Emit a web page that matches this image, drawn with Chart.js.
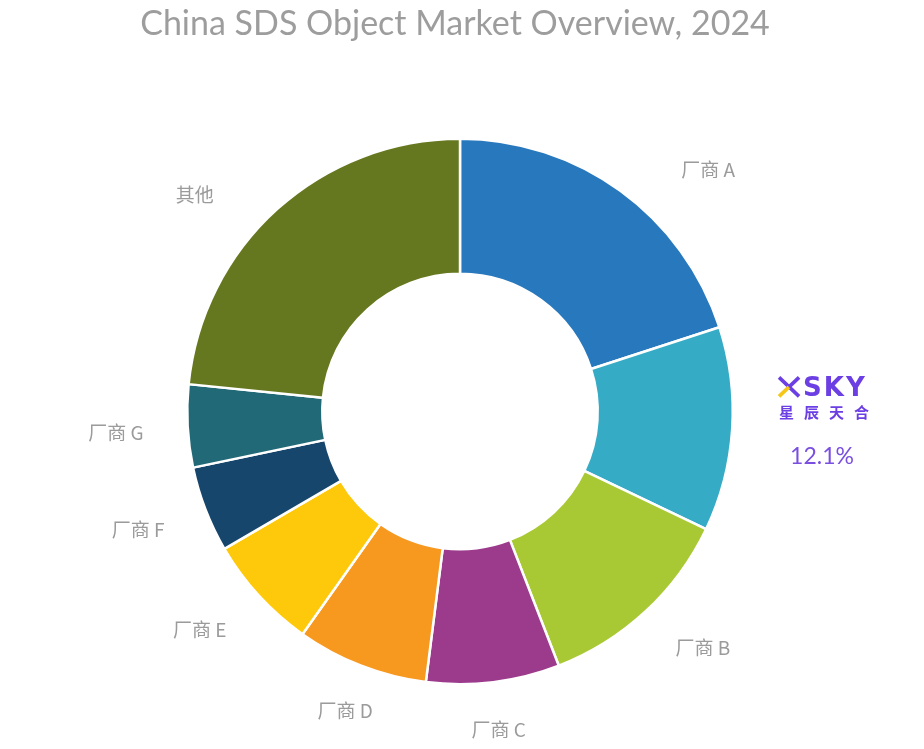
<!DOCTYPE html>
<html>
<head>
<meta charset="utf-8">
<script src="https://cdn.jsdelivr.net/npm/chart.js@4/dist/chart.umd.min.js"></script>
<style>
html,body{margin:0;padding:0;background:#fff;}
#wrap{width:924px;height:749px;position:relative;}
</style>
</head>
<body>
<div id="wrap"><canvas id="c" width="924" height="749"></canvas></div>
<script>
const chartTitle = "China SDS Object Market Overview, 2024";
const categories = ["厂商 A", "XSKY", "厂商 B", "厂商 C", "厂商 D", "厂商 E", "厂商 F", "厂商 G", "其他"];
const shares = [20.0, 12.1, 12.0, 7.9, 7.8, 6.8, 5.1, 4.9, 23.4];
const sliceColors = ["#2878bd", "#36abc6", "#a9c934", "#9c3b8c", "#f7981f", "#fdc90a", "#17466d", "#226978", "#66781f"];
const highlightName = "XSKY";
const highlightSub = "星辰天合";

const labelPlugin = {
  id: 'labels',
  afterDraw(chart) {
    const ctx = chart.ctx;
    ctx.save();
    ctx.fillStyle = '#9d9d9d';
    ctx.font = '34px "Source Sans Pro", Lato, "Noto Sans", sans-serif';
    ctx.textAlign = 'center';
    ctx.textBaseline = 'middle';
    ctx.fillText(chartTitle, 455, 24);

    const meta = chart.getDatasetMeta(0);
    meta.data.forEach((arc, i) => {
      const p = arc.getProps(['x', 'y', 'startAngle', 'endAngle', 'outerRadius'], true);
      let mid = (p.startAngle + p.endAngle) / 2;
      let r = p.outerRadius + 44;
      if (Math.sin(mid) < -0.3) {
        const nudge = 6 * Math.PI / 180;
        mid += Math.cos(mid) >= 0 ? nudge : -nudge;
        r += 14;
      }
      const ax = p.x + Math.cos(mid) * r;
      const ay = p.y + Math.sin(mid) * r;
      const c = Math.cos(mid);
      if (categories[i] === highlightName) {
        const lx = ax + 3, top = ay - 55;
        const purple = '#6b3fe3';
        ctx.lineWidth = 3.6;
        ctx.lineCap = 'butt';
        ctx.strokeStyle = purple;
        ctx.beginPath(); ctx.moveTo(lx, top); ctx.lineTo(lx + 20, top + 19); ctx.stroke();
        ctx.strokeStyle = '#f5c518';
        ctx.beginPath(); ctx.moveTo(lx, top + 19); ctx.lineTo(lx + 10, top + 9.5); ctx.stroke();
        ctx.strokeStyle = purple;
        ctx.beginPath(); ctx.moveTo(lx + 10, top + 9.5); ctx.lineTo(lx + 20, top); ctx.stroke();
        ctx.fillStyle = purple;
        ctx.textAlign = 'left';
        ctx.textBaseline = 'alphabetic';
        ctx.font = '600 26px "DejaVu Sans", sans-serif';
        if ('letterSpacing' in ctx) ctx.letterSpacing = '2px';
        ctx.fillText(highlightName.slice(1), lx + 24, top + 19);
        if ('letterSpacing' in ctx) ctx.letterSpacing = '10px';
        ctx.font = '600 15px "Noto Sans CJK SC", sans-serif';
        ctx.fillText(highlightSub, lx, top + 41);
        if ('letterSpacing' in ctx) ctx.letterSpacing = '0px';
        ctx.font = '23px "Source Sans Pro", Lato, sans-serif';
        ctx.textAlign = 'center';
        ctx.textBaseline = 'middle';
        ctx.fillStyle = '#7a4fe0';
        ctx.fillText(shares[i].toFixed(1) + '%', lx + 43, top + 79);
        return;
      }
      ctx.fillStyle = '#9b9b9b';
      ctx.font = '19px "Noto Sans CJK SC", sans-serif';
      ctx.textBaseline = 'middle';
      ctx.textAlign = Math.abs(c) < 0.4 ? 'center' : (c > 0 ? 'left' : 'right');
      ctx.fillText(categories[i], ax, ay + 4);
    });
    ctx.restore();
  }
};

new Chart(document.getElementById('c'), {
  type: 'doughnut',
  data: {
    labels: categories,
    datasets: [{
      data: shares,
      backgroundColor: sliceColors,
      borderColor: '#ffffff',
      borderWidth: 2.5
    }]
  },
  options: {
    responsive: false,
    animation: false,
    devicePixelRatio: 1,
    cutout: '50.5%',
    layout: { padding: { top: 137, bottom: 63, left: 186, right: 190 } },
    plugins: {
      legend: { display: false },
      title: { display: false },
      tooltip: { enabled: false }
    }
  },
  plugins: [labelPlugin]
});
</script>
</body>
</html>
